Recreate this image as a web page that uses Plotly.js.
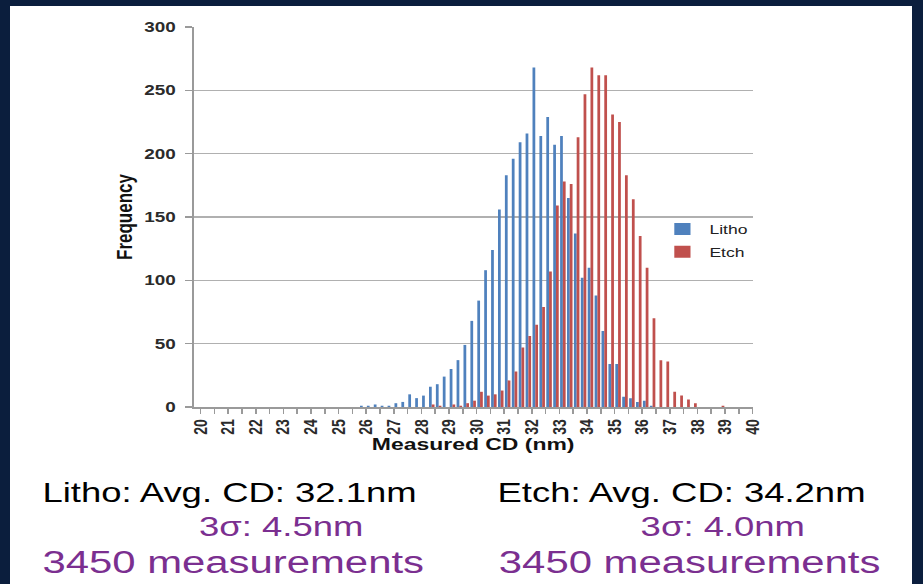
<!DOCTYPE html>
<html>
<head>
<meta charset="utf-8">
<script src="https://cdn.plot.ly/plotly-3.0.1.min.js"></script>
<style>
  html, body { margin:0; padding:0; }
  body { background:#0b1e3d; width:923px; height:584px; overflow:hidden; position:relative; }
  #frame { position:absolute; left:10px; top:6px; width:902px; height:578px; background:#ffffff; overflow:hidden; }
  #chart { width:668px; height:578px; transform:scaleX(1.3503); transform-origin:0 0; }
</style>
</head>
<body>
<div id="frame"><div id="chart"></div></div>
<script>
// Bin centres of the measured CD histogram (nm)
const cdBins = [
  19.875,20.125,20.375,20.625,20.875,21.125,21.375,21.625,21.875,22.125,
  22.375,22.625,22.875,23.125,23.375,23.625,23.875,24.125,24.375,24.625,
  24.875,25.125,25.375,25.625,25.875,26.125,26.375,26.625,26.875,27.125,
  27.375,27.625,27.875,28.125,28.375,28.625,28.875,29.125,29.375,29.625,
  29.875,30.125,30.375,30.625,30.875,31.125,31.375,31.625,31.875,32.125,
  32.375,32.625,32.875,33.125,33.375,33.625,33.875,34.125,34.375,34.625,
  34.875,35.125,35.375,35.625,35.875,36.125,36.375,36.625,36.875,37.125,
  37.375,37.625,37.875,38.125,38.375,38.625,38.875,39.125,39.375,39.625,
  39.875
];
// Litho frequencies
const lithoFreq = [
  0,0,0,0,0,0,0,0,0,0,
  0,0,0,0,0,0,0,0,0,0,
  0,0,0,0,1,1,2,1,1,3,
  4,10,7,9,16,18,24,30,37,49,
  68,84,108,124,156,183,196,209,216,268,
  214,229,207,214,165,137,102,110,88,60,
  34,34,8,7,4,5,1,0,0,0,
  0,0,0,0,0,0,0,0,0,0,
  0
];
// Etch frequencies
const etchFreq = [
  0,0,0,0,0,0,0,0,0,0,
  0,0,0,0,0,0,0,0,0,0,
  0,0,0,0,0,0,0,0,0,0,
  0,0,0,0,2,1,0,2,1,3,
  5,12,9,10,13,21,28,47,56,65,
  79,107,159,178,176,213,247,268,262,262,
  231,225,183,164,135,110,70,37,36,12,
  9,6,3,0,0,0,1,0,0,0,
  0
];
const xTickVals = [20,21,22,23,24,25,26,27,28,29,30,31,32,33,34,35,36,37,38,39,40];
const xTickText = ["20","21","22","23","24","25","26","27","28","29","30","31","32","33","34","35","36","37","38","39","40"];
const seriesNames = ["Litho","Etch"];
const summaryLines = [
  "Litho: Avg. CD: 32.1nm", "Etch: Avg. CD: 34.2nm",
  "3σ: 4.5nm", "3σ: 4.0nm",
  "3450 measurements", "3450 measurements"
];

// geometry helpers (page pixels -> plotly pixels / paper fractions)
const W = 668, H = 578, S = 902 / 668;
const toPx = px => (px - 10) / S;
const ml = toPx(194), mr = W - toPx(752), mt = 27.3 - 6, mb = H - (407.3 - 6);
const plotW = W - ml - mr, plotH = H - mt - mb;
const pX = pageX => (toPx(pageX) - ml) / plotW;
const pY = pageY => (H - mb - (pageY - 6)) / plotH;

const tickFont = {family:'"Liberation Sans", Arial, sans-serif', size:14, color:'#2b2b2b', weight:'bold'};

const traces = [
  {type:'bar', name:seriesNames[0], x:cdBins, y:lithoFreq,
   marker:{color:'#4f81bd', line:{width:0}}, legendgroup:'a'},
  {type:'bar', name:seriesNames[1], x:cdBins, y:etchFreq,
   marker:{color:'#c0504d', line:{width:0}}, legendgroup:'b'}
];

const bigFont = (size, color) => ({family:'"Liberation Sans", Arial, sans-serif', size:size, color:color});
const purple = '#7b2f90';

const annotations = [
  {text:summaryLines[0], x:pX(40), y:pY(493), xanchor:'left', yanchor:'middle', font:bigFont(27,'#000000')},
  {text:summaryLines[1], x:pX(494), y:pY(493), xanchor:'left', yanchor:'middle', font:bigFont(27,'#000000')},
  {text:summaryLines[2], x:pX(281), y:pY(527), xanchor:'center', yanchor:'middle', font:bigFont(27,purple)},
  {text:summaryLines[3], x:pX(722), y:pY(527), xanchor:'center', yanchor:'middle', font:bigFont(27,purple)},
  {text:summaryLines[4], x:pX(40), y:pY(563), xanchor:'left', yanchor:'middle', font:bigFont(31,purple)},
  {text:summaryLines[5], x:pX(496), y:pY(563), xanchor:'left', yanchor:'middle', font:bigFont(31,purple)}
].map(a => Object.assign({xref:'paper', yref:'paper', showarrow:false}, a));

const layout = {
  width:W, height:H,
  margin:{l:ml, r:mr, t:mt, b:mb, pad:0},
  paper_bgcolor:'#ffffff', plot_bgcolor:'#ffffff',
  barmode:'group', bargap:0.2, bargroupgap:0,
  font:{family:'"Liberation Sans", Arial, sans-serif'},
  xaxis:{
    range:[19.75, 40], tickvals:xTickVals, ticktext:xTickText, tickangle:-90,
    ticks:'outside', ticklen:5, tickwidth:1.2, tickcolor:'#9a9a9a',
    minor:{tickmode:'linear', tick0:20, dtick:0.5, ticks:'outside', ticklen:5, tickwidth:1.2, tickcolor:'#9a9a9a', showgrid:false},
    showline:true, linecolor:'#9a9a9a', linewidth:1.5, showgrid:false, zeroline:false,
    tickfont:tickFont,
    title:{text:'Measured CD (nm)', standoff:4, font:{family:'"Liberation Sans", Arial, sans-serif', size:17, color:'#111111', weight:'bold'}}
  },
  yaxis:{
    range:[0,300], dtick:50, tick0:0,
    ticks:'outside', ticklen:5, tickwidth:1.2, tickcolor:'#9a9a9a', ticklabelstandoff:4,
    showline:true, linecolor:'#9a9a9a', linewidth:1.5,
    showgrid:true, gridcolor:'#b0b0b0', gridwidth:1.5, zeroline:false,
    tickfont:tickFont,
    title:{text:'Frequency', standoff:4, font:{family:'"Liberation Sans", Arial, sans-serif', size:17, color:'#111111', weight:'bold'}}
  },
  showlegend:true,
  legend:{x:0.826, y:0.508, xanchor:'left', yanchor:'top', bgcolor:'rgba(0,0,0,0)',
          traceorder:'grouped', tracegroupgap:3,
          font:{family:'"Liberation Sans", Arial, sans-serif', size:13, color:'#222222'}},
  annotations:annotations
};

Plotly.newPlot('chart', traces, layout, {staticPlot:true, displayModeBar:false});
</script>
</body>
</html>
